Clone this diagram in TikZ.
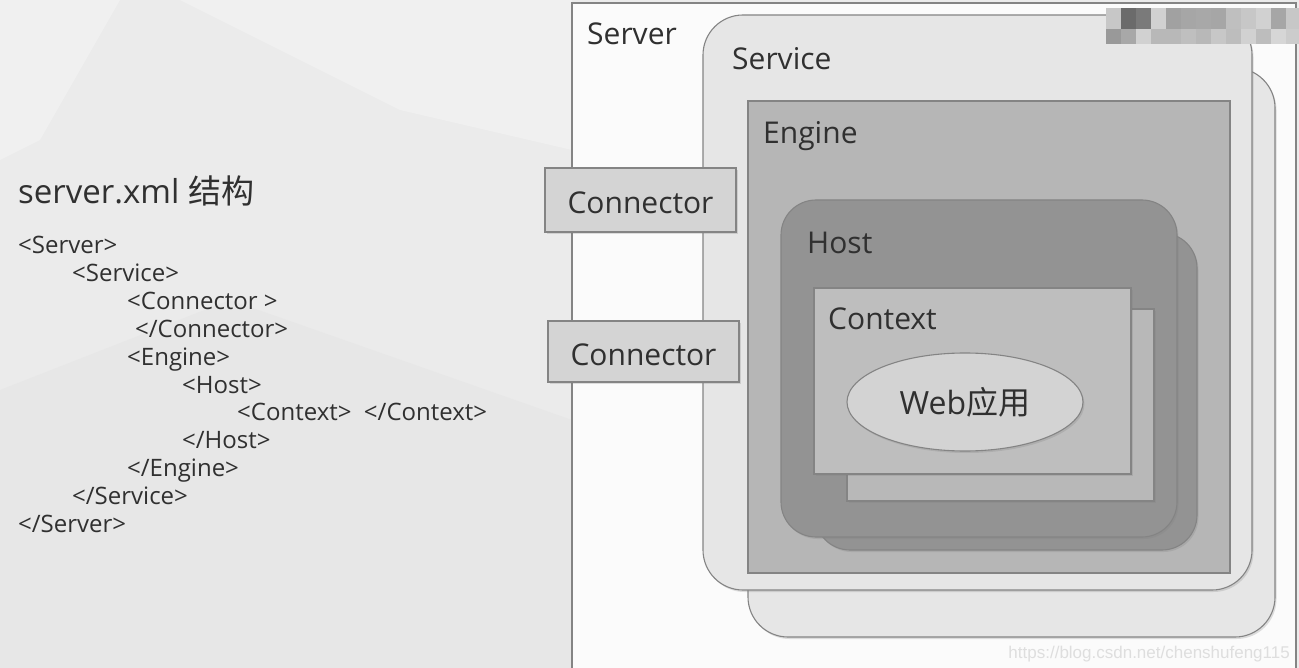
\documentclass[tikz,border=0pt]{standalone}
\usepackage{fontspec}
\setmainfont{Open Sans}
\newfontfamily\cjk{Noto Sans CJK SC}
\newfontfamily\wmfont{Liberation Sans}
\usetikzlibrary{shapes.geometric,shadows}
\definecolor{inktext}{HTML}{303030}
\definecolor{edgegray}{HTML}{848484}
\definecolor{bgbase}{HTML}{EBEBEB}
\definecolor{bglight}{HTML}{F0F0F0}
\definecolor{bgdark}{HTML}{E7E7E7}
\definecolor{serverfill}{HTML}{FBFBFB}
\definecolor{servicefill}{HTML}{E6E6E6}
\definecolor{enginefill}{HTML}{B6B6B6}
\definecolor{hostfill}{HTML}{939393}
\definecolor{contextfill}{HTML}{BEBEBE}
\definecolor{connfill}{HTML}{D4D4D4}
\definecolor{webfill}{HTML}{D3D3D3}
\tikzset{
  box/.style={draw=edgegray, line width=1.1pt, anchor=north west,
    inner sep=0pt, outer sep=0pt},
  softshadow/.style={drop shadow={shadow xshift=1.5pt, shadow yshift=-2pt, opacity=0.25}},
  boxlabel/.style={anchor=base west, inner sep=0pt, font=\fontsize{30}{36}\selectfont},
  codeline/.style={anchor=base west, inner sep=0pt, font=\fontsize{24}{28}\selectfont},
  connbox/.style={box, fill=connfill, softshadow, minimum width=191,
    font=\fontsize{30}{36}\selectfont, text height=28pt, text depth=0pt},
}
\begin{document}
\begin{tikzpicture}[x=1pt,y=-1pt, every node/.style={text=inktext}]
  \useasboundingbox (0,0) rectangle (1299,668);
  \clip (0,0) rectangle (1299,668);
  \fill[bgbase] (0,0) rectangle (1299,668);
  \fill[bglight] (180,0) -- (572,0) -- (572,150) -- (400,110) -- cycle;
  \fill[bglight] (0,0) -- (120,0) -- (40,140) -- (0,160) -- cycle;
  \fill[bgdark] (0,390) -- (230,300) -- (572,420) -- (572,668) -- (0,668) -- cycle;

  % containers
  \node[box, fill=serverfill, minimum width=724, minimum height=690] (server) at (572,3) {};
  \node[box, fill=servicefill, rounded corners=40, softshadow,
    minimum width=527, minimum height=569] (serviceback) at (748,68) {};
  \node[box, fill=servicefill, rounded corners=40, softshadow,
    minimum width=549, minimum height=575] (service) at (703,15) {};
  \node[box, fill=enginefill, minimum width=482, minimum height=472] (engine) at (748,101) {};
  \node[connbox, minimum height=64] (conn1) at (545,168) {Connector};
  \node[connbox, minimum height=61] (conn2) at (548,321) {Connector};
  \node[box, fill=hostfill, rounded corners=35, softshadow,
    minimum width=382, minimum height=317] (hostback) at (815,233) {};
  \node[box, fill=hostfill, rounded corners=35, softshadow,
    minimum width=396, minimum height=337] (host) at (781,200) {};
  \node[box, fill=contextfill!97!black, softshadow,
    minimum width=307, minimum height=192] (contextback) at (847,309) {};
  \node[box, fill=contextfill, softshadow,
    minimum width=317, minimum height=186] (context) at (814,288) {};
  \node[ellipse, draw=edgegray, line width=1.1pt, fill=webfill, softshadow,
    minimum width=236, minimum height=98, inner sep=0pt,
    font=\fontsize{32}{36}\selectfont] (webapp) at (965,402) {Web{\cjk 应用}};

  % labels
  \node[boxlabel] (serverlbl) at ([shift={(15,42)}]server.north west) {Server};
  \node[boxlabel] (servicelbl) at ([shift={(29,55)}]service.north west) {Service};
  \node[boxlabel] (enginelbl) at ([shift={(15,43)}]engine.north west) {Engine};
  \node[boxlabel] (hostlbl) at ([shift={(26,54)}]host.north west) {Host};
  \node[boxlabel] (contextlbl) at ([shift={(14,42)}]context.north west) {Context};

  % server.xml listing
  \node[anchor=base west, inner sep=0pt, font=\fontsize{33}{38}\selectfont]
    (title) at (18,204) {server.xml {\cjk 结构}};
  \foreach \x/\t [count=\k from 0] in {18/{<Server>}, 72/{<Service>},
      127/{<Connector >}, 135/{</Connector>}, 127/{<Engine>}, 182/{<Host>},
      237/{<Context>\ \ </Context>}, 182/{</Host>}, 127/{</Engine>},
      72/{</Service>}, 18/{</Server>}}
    \node[codeline] (line\k) at (\x,{254+27.8*\k}) {\t};

  % watermarks
  \foreach \i/\g in {0/22, 1/58, 2/52, 3/18, 4/37, 5/35, 6/34, 7/35, 8/25, 9/22, 10/18, 11/35, 12/22}
    \fill[black!\g] (1106+15*\i,8) rectangle ++(15,21);
  \foreach \i/\g in {0/40, 1/34, 2/18, 3/28, 4/28, 5/25, 6/28, 7/22, 8/26, 9/18, 10/26, 11/16, 12/20}
    \fill[black!\g] (1106+15*\i,29) rectangle ++(15,15);
  \node[anchor=base east, inner sep=0pt, text=black!13, font=\wmfont\fontsize{17}{20}\selectfont]
    (wm) at (1290,658) {https://blog.csdn.net/chenshufeng115};
\end{tikzpicture}
\end{document}
